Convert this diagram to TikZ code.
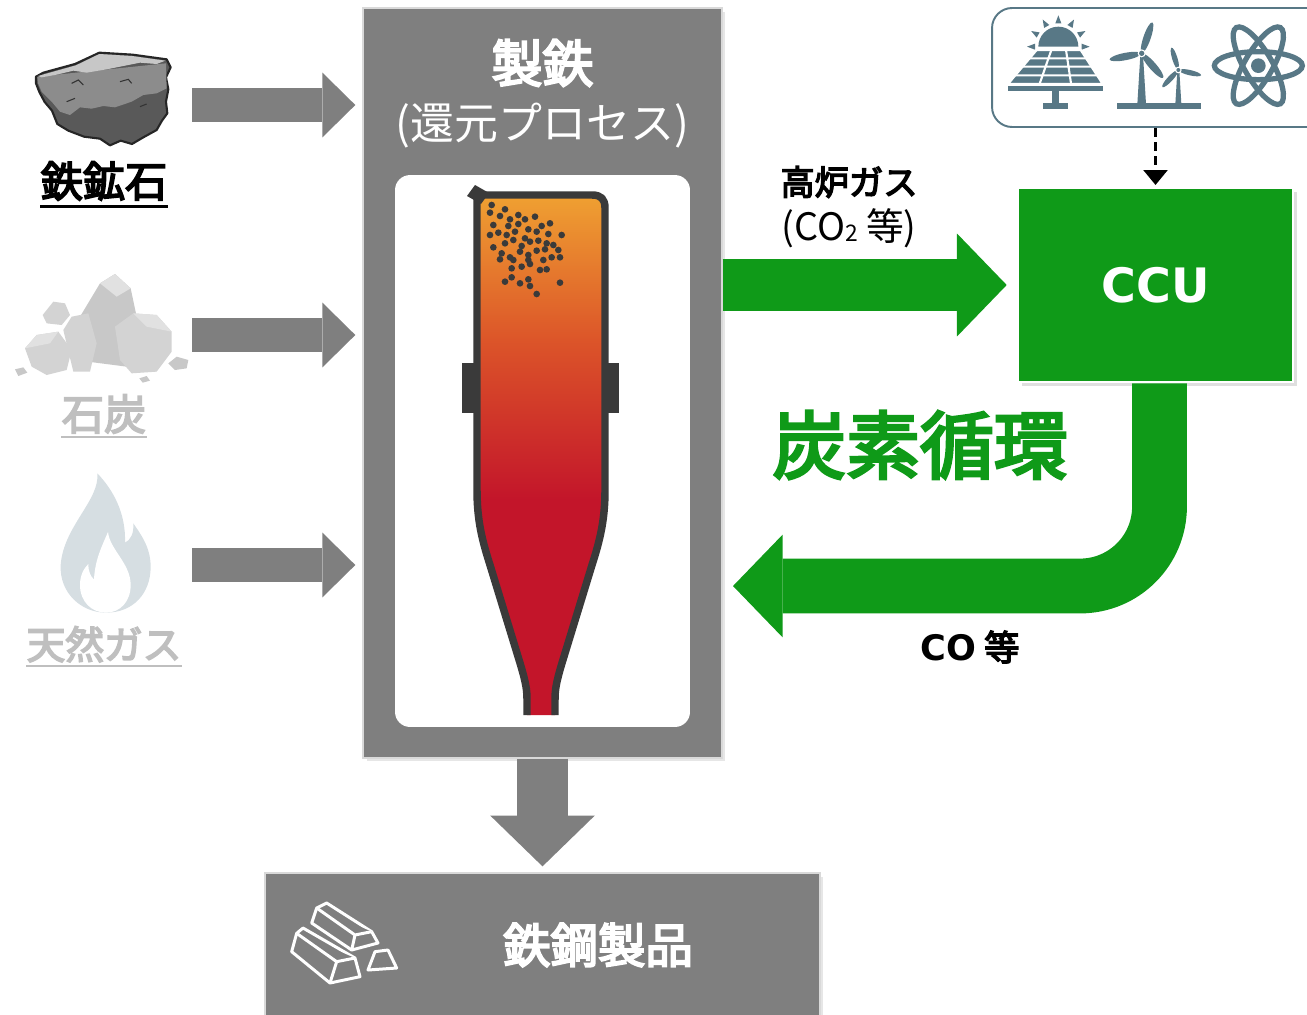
\documentclass[tikz,border=0pt]{standalone}
\usepackage{fontspec}
\setmainfont{Noto Sans CJK JP}[BoldFont={Noto Sans CJK JP}, BoldFeatures={FakeBold=4}]
\newfontfamily\verd{DejaVu Sans}
\usetikzlibrary{positioning, arrows.meta, calc, shadows}
\definecolor{pgray}{HTML}{7F7F7F}
\definecolor{cgreen}{HTML}{0F9A18}
\definecolor{slate}{HTML}{587886}
\definecolor{fade}{HTML}{BFBFBF}
\definecolor{wall}{HTML}{3A3A3A}
\definecolor{hot1}{HTML}{F0A332}
\definecolor{hot2}{HTML}{DC5529}
\definecolor{hot3}{HTML}{C3152A}
\definecolor{rock1}{HTML}{D3D3D3}
\definecolor{rock2}{HTML}{C8C8C8}
\definecolor{rock3}{HTML}{E1E1E1}
\definecolor{flame}{HTML}{D6DEE2}

\begin{document}
\begin{tikzpicture}[x=0.02cm, y=-0.02cm,
    panel/.style={fill=pgray, draw=white!85!black, line width=0.8pt, inner sep=0pt,
      drop shadow={shadow xshift=2pt, shadow yshift=-2pt, opacity=0.2}},
    feed/.style={pgray, line width=19.8pt, shorten >=4pt,
      -{Triangle[length=18.7pt, width=36.8pt, line width=0pt]}},
    flow/.style={cgreen, -{Triangle[length=28.3pt, width=58.6pt, line width=0pt]}},
    src/.style={font=\bfseries\fontsize{24}{24}\selectfont, inner sep=0pt, anchor=base},
    ingot/.style={draw=white, fill=pgray, line width=1.7pt, line join=round}]
\useasboundingbox (0,0) rectangle (1307,1014);
\clip (0,0) rectangle (1307,1014);

% process box, product box
\node[panel, minimum width=7.18cm, minimum height=15cm] (iron) at (542.5,383) {};
\node[panel, minimum width=11.1cm, minimum height=3.3cm] (steel) at (542.5,955.5) {};
\node[text=white, font=\bfseries\fontsize{29}{29}\selectfont] (ttl) at (542.5,63) {製鉄};
\node[text=white, font=\fontsize{25}{25}\selectfont] (sub) at (542.5,126) {(還元プロセス)};
\node[fill=white, rounded corners=0.3cm, minimum width=5.9cm, minimum height=11.04cm] (bay) at (542.5,451) {};
\node[text=white, font=\bfseries\fontsize{27}{27}\selectfont] (prod) at (598,945) {鉄鋼製品};

% furnace
\def\shell{(527,715) -- (527,700) .. controls (527,690) and (526,683) .. (520,663)
  -- (490,565) .. controls (482,540) and (477,520) .. (477,490) -- (477,195)
  -- (592,195) .. controls (601,195) and (605,199) .. (605,208) -- (605,490)
  .. controls (605,520) and (600,540) .. (592,565) -- (562,663)
  .. controls (556,683) and (555,690) .. (555,700) -- (555,715)}
\begin{scope}
  \clip \shell -- cycle;
  \shade[top color=hot1, bottom color=hot2] (460,190) rectangle (620,340);
  \shade[top color=hot2, bottom color=hot3] (460,339) rectangle (620,500);
  \fill[hot3] (460,499) rectangle (620,720);
\end{scope}
\fill[wall] (462,363) rectangle (478,413);
\fill[wall] (604,363) rectangle (619,413);
\draw[wall, line width=4.25pt, line join=round] \shell;
\fill[wall] (467,196) -- (475,185) -- (489,193) -- (481,204) -- cycle;
\begin{scope}[shift={(440,170)}, scale=1/3]
  \foreach \p in {(155,105),(195,118),(150,128),(180,138),(210,148),(235,135),(255,148),
      (285,140),(160,165),(205,168),(235,162),(265,178),(305,168),(330,160),(150,195),
      (175,188),(200,195),(225,185),(255,205),(290,185),(325,192),(365,195),(160,232),
      (195,220),(220,210),(245,228),(270,215),(295,212),(320,220),(340,225),(185,250),
      (210,262),(240,245),(265,255),(290,242),(315,238),(355,240),(180,268),(220,270),
      (265,270),(310,270),(335,262),(360,262),(215,295),(245,290),(270,282),(300,300),
      (320,298),(195,335),(215,322),(240,340),(265,328),(270,348),(290,372),(360,338)}
    \fill[wall] \p circle (10);
\end{scope}

% ingots
\begin{scope}[shift={(260,860)}, scale=1/3]
  \filldraw[ingot] (95,275) -- (110,220) -- (129,204) -- (285,294) -- (300,350) -- (210,369) -- cycle;
  \draw[ingot] (110,220) -- (230,305) -- (285,294) (230,305) -- (210,369);
  \filldraw[ingot] (155,189) -- (170,144) -- (200,129) -- (335,215) -- (354,249) -- (275,270) -- cycle;
  \draw[ingot] (170,144) -- (285,225) -- (335,215) (285,225) -- (275,270);
  \filldraw[ingot] (324,330) -- (345,275) -- (384,270) -- (410,324) -- cycle;
\end{scope}

% iron ore
\begin{scope}[shift={(0,30)}, scale=1/3]
  \filldraw[fill=black!65, draw=black!85, line width=1.2pt, line join=round]
    (108,140) -- (130,128) -- (225,102) -- (298,68) -- (398,74) -- (500,88) -- (512,112)
    -- (498,142) -- (505,178) -- (498,215) -- (502,250) -- (486,272) -- (470,300) -- (430,322)
    -- (396,342) -- (362,332) -- (330,346) -- (300,326) -- (252,320) -- (205,302) -- (172,282)
    -- (156,242) -- (134,216) -- (118,186) -- (108,160) -- cycle;
  \fill[black!45] (112,140) -- (498,100) -- (500,175) -- (470,190) -- (430,195) -- (395,215)
    -- (345,232) -- (310,228) -- (275,236) -- (240,232) -- (210,255) -- (180,245) -- (155,215)
    -- (125,185) -- (114,160) -- cycle;
  \fill[black!22] (114,138) -- (228,106) -- (298,72) -- (396,78) -- (496,92) -- (470,102)
    -- (420,98) -- (380,106) -- (320,118) -- (260,128) -- (220,122) -- (170,134) -- (125,142) -- cycle;
  \draw[black!80, line width=0.6pt] (215,160) -- (235,150) -- (250,165) (360,155) -- (385,148) -- (395,160)
    (200,215) -- (225,205) (420,230) -- (440,222);
\end{scope}

% coal
\begin{scope}[shift={(0,260)}, scale=1/3]
  \fill[rock2] (225,300) -- (240,170) -- (300,70) -- (345,42) -- (392,85) -- (410,170) -- (380,320) -- cycle;
  \fill[rock3] (300,70) -- (345,42) -- (392,85) -- (350,110) -- cycle;
  \fill[rock1] (128,165) -- (160,125) -- (195,130) -- (210,165) -- (185,195) -- (140,190) -- cycle;
  \fill[rock1] (190,210) -- (215,170) -- (265,160) -- (290,250) -- (270,335) -- (220,335) -- cycle;
  \fill[rock1] (75,265) -- (110,225) -- (175,215) -- (215,270) -- (200,330) -- (140,345) -- (95,320) -- cycle;
  \fill[rock3] (75,265) -- (110,225) -- (175,215) -- (150,250) -- cycle;
  \fill[rock1] (345,200) -- (400,160) -- (470,165) -- (515,215) -- (515,275) -- (470,335) -- (395,340) -- (360,300) -- cycle;
  \fill[rock3] (400,160) -- (470,165) -- (515,215) -- (440,200) -- cycle;
  \fill[rock2] (505,310) -- (530,290) -- (565,300) -- (560,325) -- (525,330) -- cycle;
  \fill[rock2] (45,328) -- (70,322) -- (82,338) -- (55,348) -- cycle;
  \fill[rock2] (418,355) -- (440,348) -- (450,362) -- (428,368) -- cycle;
  % flame
  \fill[flame] (292,640) .. controls (300,720) and (190,800) .. (182,915)
    .. controls (178,1000) and (245,1058) .. (318,1058)
    .. controls (400,1058) and (452,1000) .. (452,920)
    .. controls (452,860) and (420,820) .. (400,790)
    .. controls (402,820) and (392,840) .. (375,848)
    .. controls (378,760) and (340,690) .. (292,640) -- cycle;
  \fill[white] (324,816) .. controls (330,870) and (392,910) .. (392,975)
    .. controls (392,1025) and (360,1058) .. (318,1058)
    .. controls (275,1058) and (240,1025) .. (240,975)
    .. controls (240,945) and (252,925) .. (265,912)
    .. controls (265,935) and (272,950) .. (282,958)
    .. controls (285,900) and (305,860) .. (324,816) -- cycle;
\end{scope}

% input labels
\node[src] (oreL) at (104,197) {鉄鉱石};
\draw[line width=1.6pt] ([yshift=-5.5pt]oreL.base west) -- ([yshift=-5.5pt]oreL.base east);
\node[src, text=fade] (coalL) at (104,430) {石炭};
\draw[fade, line width=1.4pt] ([yshift=-4pt]coalL.base west) -- ([yshift=-4pt]coalL.base east);
\node[src, text=fade, font=\bfseries\fontsize{22}{22}\selectfont] (gasL) at (104,659) {天然ガス};
\draw[fade, line width=1.4pt] ([yshift=-4pt]gasL.base west) -- ([yshift=-4pt]gasL.base east);

\foreach \y [count=\i] in {105,335,565} {
  \coordinate (in\i) at (192,\y);
  \draw[feed] (in\i) -- (in\i -| iron.west);
}

% CCU and energy sources
\node[fill=cgreen, draw=white, line width=1.5pt, minimum width=5.5cm, minimum height=3.88cm,
  text=white, font=\verd\bfseries\fontsize{27}{27}\selectfont,
  drop shadow={shadow xshift=2pt, shadow yshift=-2pt, opacity=0.25}] (ccu) at (1155.5,285) {CCU};
\node[draw=slate, line width=1.1pt, rounded corners=0.4cm, fill=white,
  minimum width=6.8cm, minimum height=2.38cm] (power) at (1162,67.5) {};
\begin{scope}[shift={(990,0)}, scale=1/3]
  \fill[slate] (145,140) arc (180:360:60);
  \foreach \a in {180,210,...,360}
    \fill[slate, shift={(205,140)}, rotate=-\a] (70,-9) -- (94,0) -- (70,9) -- cycle;
  \fill[slate, draw=white, line width=1.2pt] (140,150) -- (272,150) -- (338,252) -- (54,252) -- cycle;
  \draw[white, line width=1.2pt] (119,175) -- (288,175) (98,200) -- (304,200) (76,226) -- (321,226)
    (184,150) -- (148.7,252) (228,150) -- (243.3,252);
  \fill[slate] (54,258) rectangle (338,272);
  \fill[slate] (187,272) rectangle (207,310);
  \fill[slate] (160,310) rectangle (234,326);
  % turbines
  \fill[slate] (380,310) rectangle (632,327);
  \fill[slate] (451,165) -- (459,165) -- (468,312) -- (442,312) -- cycle;
  \fill[slate] (562,212) -- (568,212) -- (574,312) -- (556,312) -- cycle;
  \foreach \a in {71,-49,-169}
    \fill[slate, shift={(455,160)}, rotate=\a] (50,0) ellipse (48 and 11);
  \foreach \a in {107,-13,-133}
    \fill[slate, shift={(565,210)}, rotate=\a] (36,0) ellipse (34 and 8);
  \fill[white] (455,160) circle (12); \fill[slate] (455,160) circle (8);
  \fill[white] (565,210) circle (10); \fill[slate] (565,210) circle (6);
  % atom
  \foreach \a in {0,60,-60}
    \draw[slate, line width=3pt, rotate around={\a:(805,197)}] (805,197) ellipse (132 and 42);
  \fill[slate] (805,197) circle (22);
\end{scope}
\draw[dashed, dash pattern=on 5pt off 3pt, line width=1.7pt, shorten >=1pt,
  -{Triangle[length=8.5pt, width=14pt, line width=0pt]}] (power.south -| ccu.north) -- (ccu.north);

% gas flows
\coordinate (ret) at (733,586);
\draw[flow, line width=29.5pt, shorten >=5.7pt] (iron.east |- ccu.west) -- (ccu.west);
\draw[flow, line width=31.2pt, rounded corners=1.59cm] ([xshift=0.08cm]ccu.south) |- (ret);
\draw[pgray, line width=28.9pt, shorten >=3.4pt,
  -{Triangle[length=28.9pt, width=59.5pt, line width=0pt]}] (iron.south) -- (steel.north);

\node[font=\bfseries\fontsize{19.5}{19.5}\selectfont] (bfg) at (849,182) {高炉ガス};
\node[font=\fontsize{21.5}{21.5}\selectfont] (bfgsub) at (849,228)
  {(CO\raisebox{-0.5pt}{\fontsize{13}{13}\selectfont 2} 等)};
\node[text=cgreen, font=\bfseries\fontsize{42}{42}\selectfont] (loop) at (920,445) {炭素循環};
\node[font=\bfseries\fontsize{20}{20}\selectfont] (co) at (970,647) {{\verd CO} 等};
\end{tikzpicture}
\end{document}
